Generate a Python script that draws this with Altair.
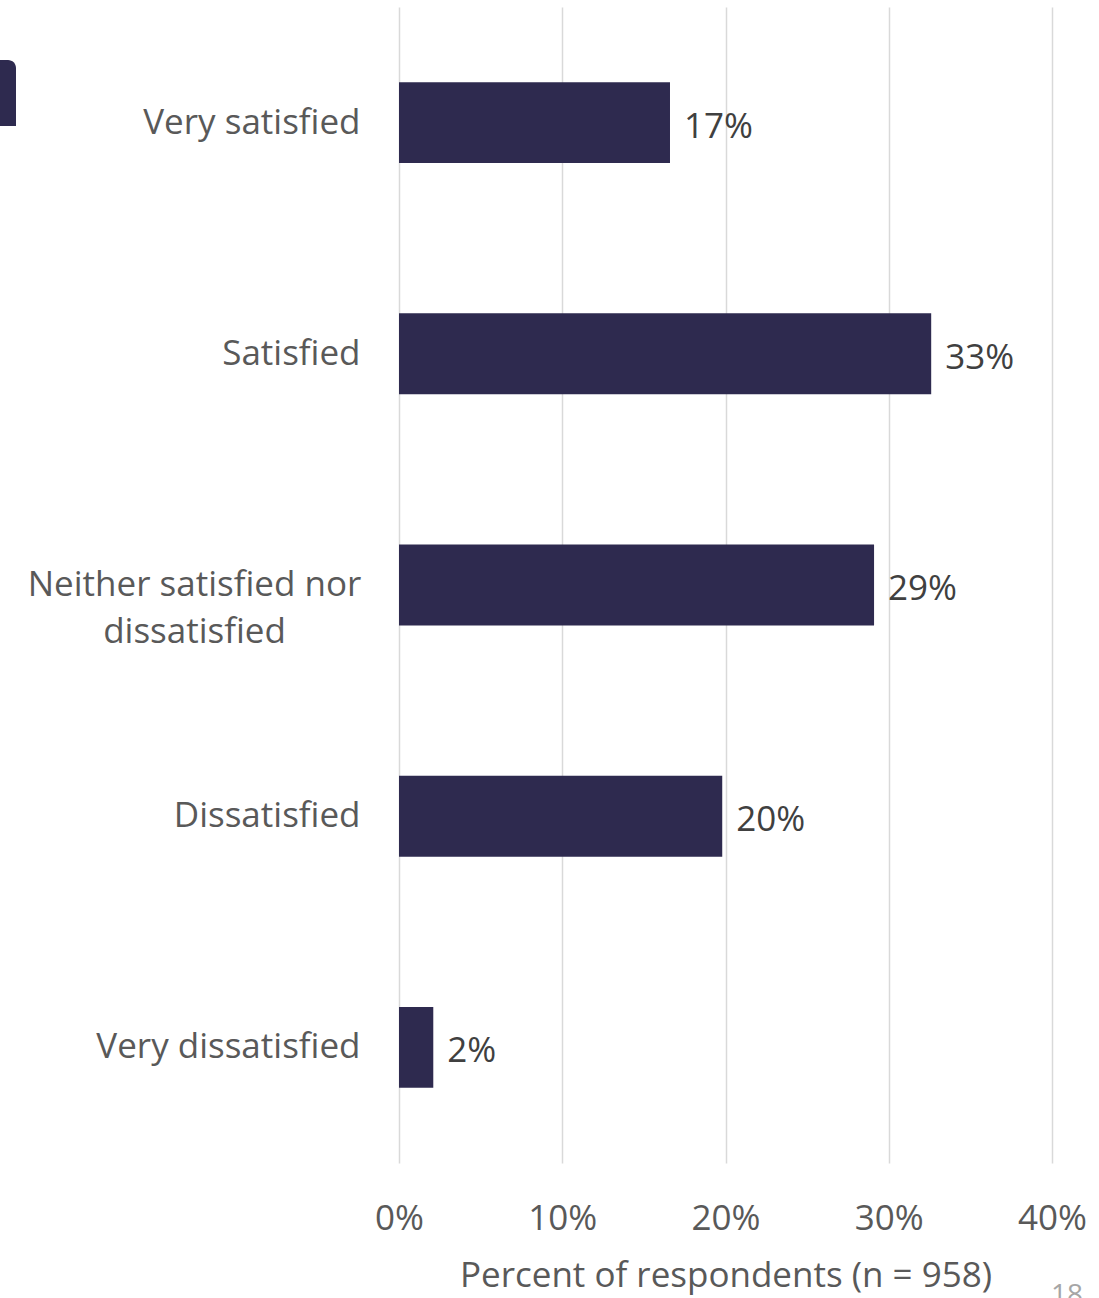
import altair as alt
import pandas as pd

categories = ["Very satisfied", "Satisfied", "Neither satisfied nor dissatisfied",
              "Dissatisfied", "Very dissatisfied"]
shares = [0.166, 0.326, 0.291, 0.198, 0.021]
x_ticks = [0, 0.1, 0.2, 0.3, 0.4]
x_title = "Percent of respondents (n = 958)"
wrapped_label = ["Neither satisfied nor", "dissatisfied"]
page_number = ["18"]

df = pd.DataFrame({"category": categories, "share": shares})

FONT = "Open Sans"
NAVY = "#2E2A4F"
GRAY = "#595959"
FS = 35

wrap_test = "datum.value == 'Neither satisfied nor dissatisfied'"
label_expr = (f"{wrap_test} ? ['{wrapped_label[0]}', '{wrapped_label[1]}'] : datum.label")

y_enc = alt.Y(
    "category:N", sort=categories, title=None,
    scale=alt.Scale(paddingInner=0.65, paddingOuter=0.325),
    axis=alt.Axis(
        domain=False, ticks=False, labelFont=FONT, labelFontSize=FS,
        labelColor=GRAY, labelLimit=0, labelLineHeight=47,
        labelExpr=label_expr,
        labelAlign={"condition": {"test": wrap_test, "value": "center"}, "value": "right"},
        labelPadding={"condition": {"test": wrap_test, "value": 205}, "value": 39},
    ),
)

x_enc = alt.X(
    "share:Q", scale=alt.Scale(domain=[0, 0.4]),
    axis=alt.Axis(
        values=x_ticks, format=".0%", grid=True, gridColor="#D9D9D9", gridWidth=1.5,
        domain=False, ticks=False, labelFlush=False, labelFont=FONT, labelFontSize=FS,
        labelColor=GRAY, labelPadding=38, title=x_title, titleFont=FONT,
        titleFontSize=FS, titleFontWeight="normal", titleColor=GRAY, titlePadding=22,
    ),
)

base = alt.Chart(df)
bars = base.mark_bar(color=NAVY).encode(x=x_enc, y=y_enc)
values = base.mark_text(align="left", baseline="middle", dx=14, dy=4, font=FONT,
                        fontSize=FS, color="#404040").encode(
    x="share:Q", y=alt.Y("category:N", sort=categories),
    text=alt.Text("share:Q", format=".0%"),
)

deco_df = pd.DataFrame({"t": page_number})
tab = alt.Chart(deco_df).mark_rect(color=NAVY, cornerRadiusTopRight=16).encode(
    x=alt.value(-399), x2=alt.value(-383), y=alt.value(53), y2=alt.value(119))
page = alt.Chart(deco_df).mark_text(font=FONT, fontSize=28, color="#A6A6A6",
                                    align="center", baseline="alphabetic").encode(
    text="t:N", x=alt.value(668), y=alt.value(1297))

chart = alt.layer(bars, values, tab, page).properties(
    width=653, height=1156,
    background="white",
    autosize=alt.AutoSizeParams(type="none"),
    padding={"left": 399, "top": 7, "right": 47, "bottom": 135},
).configure_view(stroke=None)

chart.save("out.html", embed_options={"renderer": "svg", "actions": False})
